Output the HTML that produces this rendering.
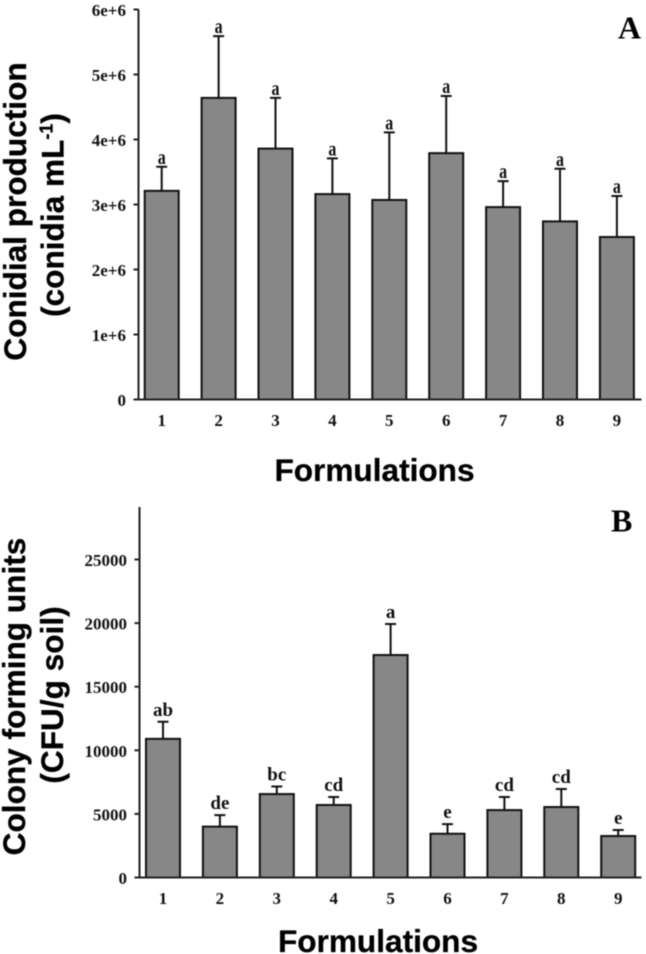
<!DOCTYPE html>
<html>
<head>
<meta charset="utf-8">
<style>
html,body{margin:0;padding:0;background:#fff;}
svg{display:block;}
text{fill:#111;}
.tick{font-family:"Liberation Serif",serif;font-size:17px;}
.cat{font-family:"Liberation Serif",serif;font-size:17px;text-anchor:middle;}
.sig{font-family:"Liberation Serif",serif;text-anchor:middle;}
.weight-a{font-weight:bold;}
.weight-b{font-weight:bold;}
.title{font-family:"Liberation Sans",sans-serif;font-weight:bold;font-size:31.6px;fill:#000;stroke:#000;stroke-width:0.3px;}
.letter{font-family:"Liberation Serif",serif;font-weight:bold;font-size:32px;fill:#000;}
</style>
</head>
<body>
<svg id="fig" width="646" height="954" viewBox="0 0 646 954" xmlns="http://www.w3.org/2000/svg">
  <g id="charts" style="filter:blur(0.4px)"></g>
  <g style="filter:blur(0.4px)">
  <text class="letter" x="618" y="38.5">A</text>
  <text class="letter" x="611" y="531.5">B</text>
  <text class="title" text-anchor="middle" transform="translate(26,211.5) rotate(-90)">Conidial production</text>
  <text class="title" text-anchor="middle" transform="translate(63.5,215) rotate(-90)">(conidia mL<tspan font-size="18" dy="-11">-1</tspan><tspan dy="11">)</tspan></text>
  <text class="title" text-anchor="middle" x="374.5" y="481">Formulations</text>
  <text class="title" text-anchor="middle" transform="translate(25,696.5) rotate(-90)">Colony forming units</text>
  <text class="title" text-anchor="middle" transform="translate(63,695) rotate(-90)">(CFU/g soil)</text>
  <text class="title" text-anchor="middle" x="378" y="952">Formulations</text>
  </g>
</svg>
<script>
const categories = ["1", "2", "3", "4", "5", "6", "7", "8", "9"];

const conidiaMeans = [3.21e6, 4.64e6, 3.86e6, 3.16e6, 3.07e6, 3.79e6, 2.96e6, 2.74e6, 2.50e6];
const conidiaUpper = [3.58e6, 5.59e6, 4.64e6, 3.71e6, 4.11e6, 4.67e6, 3.36e6, 3.55e6, 3.13e6];
const conidiaLetters = ["a", "a", "a", "a", "a", "a", "a", "a", "a"];
const conidiaTicks = [0, 1e6, 2e6, 3e6, 4e6, 5e6, 6e6];
const conidiaTickLabels = ["0", "1e+6", "2e+6", "3e+6", "4e+6", "5e+6", "6e+6"];

const cfuMeans = [10900, 4000, 6560, 5700, 17490, 3440, 5300, 5540, 3260];
const cfuUpper = [12240, 4900, 7150, 6330, 19930, 4200, 6330, 6960, 3730];
const cfuLetters = ["ab", "de", "bc", "cd", "a", "e", "cd", "cd", "e"];
const cfuTicks = [0, 5000, 10000, 15000, 20000, 25000];
const cfuTickLabels = ["0", "5000", "10000", "15000", "20000", "25000"];

const NS = "http://www.w3.org/2000/svg";
const root = document.getElementById("charts");

function make(tag, attrs, parent) {
  const el = document.createElementNS(NS, tag);
  for (const k in attrs) el.setAttribute(k, attrs[k]);
  parent.appendChild(el);
  return el;
}

function drawPanel(p) {
  const y = v => p.y0 - (v / p.perUnit);
  const x = i => p.x0 + i * p.step;
  const g = make("g", {}, root);
  
  

  p.means.forEach((m, i) => {
    const cx = x(i);
    const err = make("path", {
      d: "M" + cx + " " + y(m) + "V" + y(p.upper[i]) + "M" + (cx - 5.5) + " " + y(p.upper[i]) + "H" + (cx + 5.5),
      stroke: "#111", "stroke-width": 2, fill: "none"
    }, g);
    
    

    const bar = make("rect", {
      x: cx - 17, y: y(m), width: 34, height: p.y0 - y(m),
      fill: "#878787", stroke: "#111", "stroke-width": 2
    }, g);
    
    

    const sig = make("text", {
      class: "sig " + p.weight,
      transform: "translate(" + cx + "," + (y(p.upper[i]) - p.sigGap) + ") scale(1," + p.sigStretch + ")",
      "font-size": p.sigSize
    }, g);
    sig.textContent = p.letters[i];
    
    

    const cat = make("text", { class: "cat " + p.weight, x: cx, y: p.y0 + p.catGap }, g);
    cat.textContent = categories[i];
    
    
  });

  const yAxis = make("line", { x1: p.axisX, x2: p.axisX, y1: p.yTop, y2: p.y0, stroke: "#222", "stroke-width": 2 }, g);
  
  

  const xAxis = make("line", { x1: p.axisX - 5, x2: p.xEnd, y1: p.y0, y2: p.y0, stroke: "#222", "stroke-width": 2 }, g);
  
  

  p.ticks.forEach((t, i) => {
    const tick = make("line", { x1: p.axisX - 5, x2: p.axisX, y1: y(t), y2: y(t), stroke: "#222", "stroke-width": 2 }, g);
    
    

    const lab = make("text", { class: "tick " + p.weight, x: p.axisX - 12.5, y: y(t) + 6.5, "text-anchor": "end" }, g);
    lab.textContent = p.tickLabels[i];
    
    
  });
}

drawPanel({
  id: "panel-a", means: conidiaMeans, upper: conidiaUpper, letters: conidiaLetters,
  ticks: conidiaTicks, tickLabels: conidiaTickLabels, weight: "weight-a",
  x0: 161.7, step: 56.9, y0: 399.5, perUnit: 1e6 / 65, yTop: 9.5, axisX: 138.5, xEnd: 641.5,
  sigGap: 3, catGap: 26.5, sigSize: 16, sigStretch: 1.35
});
drawPanel({
  id: "panel-b", means: cfuMeans, upper: cfuUpper, letters: cfuLetters,
  ticks: cfuTicks, tickLabels: cfuTickLabels, weight: "weight-b",
  x0: 163, step: 56.9, y0: 877.5, perUnit: 5000 / 63.6, yTop: 507, axisX: 139.5, xEnd: 641.5,
  sigGap: 6, catGap: 26.5, sigSize: 19, sigStretch: 1
});
</script>
</body>
</html>
